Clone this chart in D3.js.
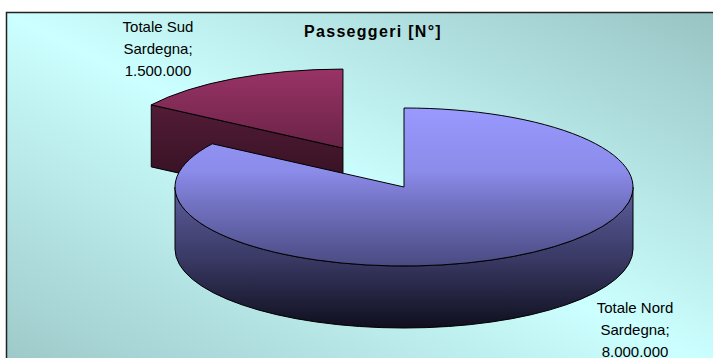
<!DOCTYPE html>
<html>
<head>
<meta charset="utf-8">
<script src="https://cdn.jsdelivr.net/npm/d3@7"></script>
<style>
  html, body { margin: 0; padding: 0; background: #ffffff; }
  svg { display: block; }
  text { font-family: "Liberation Sans", Arial, sans-serif; fill: #000; }
</style>
</head>
<body>
<svg id="chart" width="713" height="358"></svg>
<script>
// ---- data ----
const title = "Passeggeri [N°]";
const categories = ["Totale Nord Sardegna", "Totale Sud Sardegna"];
const labelNames = [["Totale Nord", "Sardegna;"], ["Totale Sud", "Sardegna;"]];
const values = [8000000, 1500000];
const explode = [0, 0.56];

// ---- layout ----
const W = 713, H = 358;
const cx = 404, cy = 187, rx = 229, ry = 79, depth = 62;
const labelAnchors = [[635, 313], [158, 32]];

const itFmt = d3.formatLocale({decimal: ",", thousands: ".", grouping: [3], currency: ["€", ""]}).format(",d");

const svg = d3.select("#chart");
const defs = svg.append("defs");

function linGrad(id, stops, x1, y1, x2, y2) {
  const g = defs.append("linearGradient").attr("id", id)
    .attr("x1", x1).attr("y1", y1).attr("x2", x2).attr("y2", y2);
  stops.forEach(s => g.append("stop").attr("offset", s[0]).attr("stop-color", s[1]));
}
linGrad("bg", [[0, "#9cc7c7"], [0.5, "#ccffff"], [1, "#98c3c3"]], 0, 1, 1, 0);
linGrad("nordTop", [[0, "#9999ff"], [0.4, "#8b8bea"], [0.6, "#7373c4"], [1, "#4a4a82"]], 0, 0, 0, 1);
linGrad("nordSide", [[0, "#5e5e9e"], [0.5, "#3a3a66"], [1, "#0f0f1e"]], 0, 0, 0, 1);
linGrad("sudTop", [[0, "#993366"], [1, "#6a2347"]], 0, 0, 0, 1);
linGrad("sudSide", [[0, "#531c37"], [1, "#2b0d1c"]], 0, 0, 0, 1);
const topFill = ["url(#nordTop)", "url(#sudTop)"];
const sideFill = ["url(#nordSide)", "url(#sudSide)"];

// background / chart area
svg.append("rect").attr("x", 6.5).attr("y", 12.5).attr("width", 712).attr("height", 360)
  .attr("fill", "url(#bg)").attr("stroke", "#222").attr("stroke-width", 1.5);

// pie layout
const pie = d3.pie().sort(null).value(d => d).startAngle(0).endAngle(2 * Math.PI);
const arcs = pie(values).map((a, i) => {
  const m = (a.startAngle + a.endAngle) / 2;
  const c = [cx + explode[i] * rx * Math.sin(m), cy - explode[i] * ry * Math.cos(m)];
  return Object.assign({}, a, {i, mid: m, c});
});

function pt(c, t, dz) { return [c[0] + rx * Math.sin(t), c[1] - ry * Math.cos(t) + dz]; }

function topPath(a) {
  const p0 = pt(a.c, a.startAngle, 0), p1 = pt(a.c, a.endAngle, 0);
  const large = (a.endAngle - a.startAngle) > Math.PI ? 1 : 0;
  return `M${a.c[0]},${a.c[1]}L${p0[0]},${p0[1]}A${rx},${ry} 0 ${large} 1 ${p1[0]},${p1[1]}Z`;
}
function sidePath(a) {
  const s = Math.max(a.startAngle, Math.PI / 2), e = Math.min(a.endAngle, 3 * Math.PI / 2);
  if (e <= s) return null;
  const s0 = pt(a.c, s, 0), e0 = pt(a.c, e, 0), e1 = pt(a.c, e, depth), s1 = pt(a.c, s, depth);
  const large = (e - s) > Math.PI ? 1 : 0;
  return `M${s0[0]},${s0[1]}A${rx},${ry} 0 ${large} 1 ${e0[0]},${e0[1]}L${e1[0]},${e1[1]}A${rx},${ry} 0 ${large} 0 ${s1[0]},${s1[1]}Z`;
}
function radialPath(a, t) {
  const p0 = pt(a.c, t, 0), p1 = pt(a.c, t, depth);
  return `M${a.c[0]},${a.c[1]}L${p0[0]},${p0[1]}L${p1[0]},${p1[1]}L${a.c[0]},${a.c[1] + depth}Z`;
}

const g = svg.append("g").attr("stroke", "#000").attr("stroke-width", 1).attr("stroke-linejoin", "round");
// draw back (exploded) slice first
const order = arcs.slice().sort((a, b) => a.c[1] - b.c[1]);
order.forEach(a => {
  [[a.startAngle, true], [a.endAngle, false]].forEach(([t, st]) => {
    const n = st ? t - Math.PI / 2 : t + Math.PI / 2;
    if (-Math.cos(n) > 0.01) {
      g.append("path").attr("d", radialPath(a, t)).attr("fill", sideFill[a.i]);
    }
  });
  const sp = sidePath(a);
  if (sp) g.append("path").attr("d", sp).attr("fill", sideFill[a.i]);
  g.append("path").attr("d", topPath(a)).attr("fill", topFill[a.i]);
});

// title
svg.append("text").attr("x", 373).attr("y", 37).attr("text-anchor", "middle")
  .style("font-size", "16px").style("font-weight", "bold").style("letter-spacing", "1.3px")
  .text(title);

// data labels
arcs.forEach(a => {
  const lines = labelNames[a.i].concat([itFmt(values[a.i])]);
  const t = svg.append("text").attr("text-anchor", "middle").style("font-size", "15px");
  lines.forEach((l, k) => {
    t.append("tspan").attr("x", labelAnchors[a.i][0]).attr("y", labelAnchors[a.i][1] + k * 22).text(l);
  });
});
</script>
</body>
</html>
